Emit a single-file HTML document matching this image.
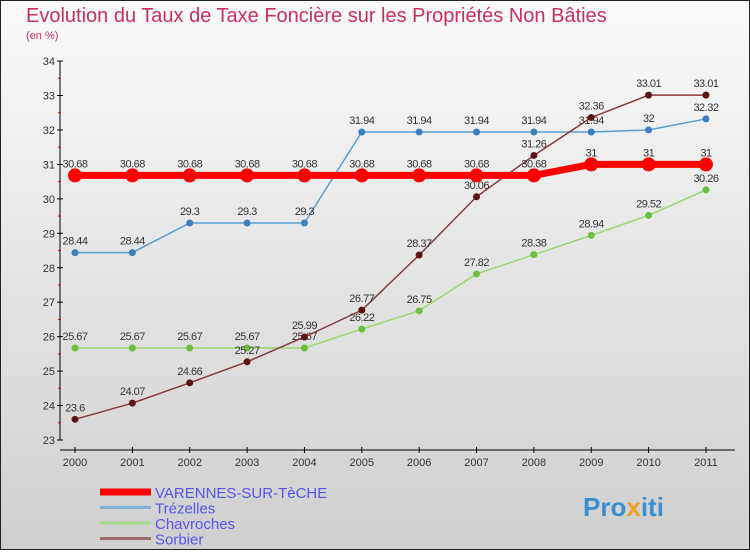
<!DOCTYPE html>
<html><head><meta charset="utf-8"><style>
body{margin:0;width:750px;height:550px;overflow:hidden;font-family:"Liberation Sans",sans-serif}
</style></head><body>
<svg width="750" height="550" xmlns="http://www.w3.org/2000/svg">
<defs><linearGradient id="bg" x1="0" y1="0" x2="0" y2="1"><stop offset="0" stop-color="#fafafa"/><stop offset="1" stop-color="#cfcfcf"/></linearGradient></defs>
<rect x="0.5" y="0.5" width="749" height="549" fill="url(#bg)" stroke="#222"/>
<text x="26" y="22" font-size="20" fill="#c8305f">Evolution du Taux de Taxe Foncière sur les Propriétés Non Bâties</text>
<text x="26" y="39" font-size="11" fill="#c8305f">(en %)</text>
<g id="axes"></g><g id="series"></g><g id="legend"></g>
<text x="583" y="516" font-size="26" font-weight="bold" fill="#3a8fd0">Pro<tspan fill="#f0a020">x</tspan>iti</text>
</svg>
<script>
const years=[2000,2001,2002,2003,2004,2005,2006,2007,2008,2009,2010,2011];
const yTicks=[23,24,25,26,27,28,29,30,31,32,33,34];
const varennes=[30.68,30.68,30.68,30.68,30.68,30.68,30.68,30.68,30.68,31,31,31];
const trezelles=[28.44,28.44,29.3,29.3,29.3,31.94,31.94,31.94,31.94,31.94,32,32.32];
const chavroches=[25.67,25.67,25.67,25.67,25.67,26.22,26.75,27.82,28.38,28.94,29.52,30.26];
const sorbier=[23.6,24.07,24.66,25.27,25.99,26.77,28.37,30.06,31.26,32.36,33.01,33.01];
const names=["VARENNES-SUR-TèCHE","Trézelles","Chavroches","Sorbier"];
const NS="http://www.w3.org/2000/svg";
const X=i=>75+i*57.36, Y=v=>440-(v-23)*34.45;
function mk(t,a,p){const e=document.createElementNS(NS,t);for(const k in a)e.setAttribute(k,a[k]);p.appendChild(e);return e;}
const ax=document.getElementById('axes');
const ya=mk('line',{x1:60,y1:Y(34),x2:60,y2:Y(23),stroke:'#000'},ax);


yTicks.forEach(v=>{
  mk('line',{x1:57,x2:63,y1:Y(v),y2:Y(v),stroke:'#000'},ax);
  if(v<34)mk('line',{x1:58,x2:61,y1:Y(v+0.5),y2:Y(v+0.5),stroke:'#e00'},ax);
  const t=mk('text',{x:55,y:Y(v)+4,'font-size':11,fill:'#333','text-anchor':'end'},ax);t.textContent=v;
  
  
});
const xa=mk('line',{x1:60,y1:450,x2:735,y2:450,stroke:'#000'},ax);


years.forEach((y,i)=>{
  mk('line',{x1:X(i),x2:X(i),y1:447,y2:453,stroke:'#000'},ax);
  const t=mk('text',{x:X(i),y:466,'font-size':11,fill:'#333','text-anchor':'middle'},ax);t.textContent=y;
  
  
});
const sg=document.getElementById('series');
const specs=[[trezelles,'#5a9fd0','#3a80c0',1.5,3.5],[chavroches,'#9ad870','#6cc040',1.5,3.5],[sorbier,'#8a3a3a','#5a1515',1.5,3.5],[varennes,'#f00','#f00',7,7]];
const order=[1,2,3,0];
specs.forEach((s,k)=>{
  const [d,lc,pc,w,r]=s;
  const g=mk('g',{},sg);
  
  
  mk('polyline',{points:d.map((v,i)=>X(i)+','+Y(v)).join(' '),fill:'none',stroke:lc,'stroke-width':w},g);
  d.forEach((v,i)=>{
    const c=mk('circle',{cx:X(i),cy:Y(v),r:r,fill:pc},g);
    
    
    const t=mk('text',{x:X(i),y:Y(v)-8,'font-size':11,fill:'#333','text-anchor':'middle','letter-spacing':'-0.5'},g);
    t.textContent=String(v);
    
    
  });
});
const lg=document.getElementById('legend');
const lcol=['#f00','#80b0d0','#a8d890','#9a6a6a'],lw=[7,3,3,3];
names.forEach((n,i)=>{
  const y=492+i*15.5;
  const l=mk('line',{x1:100,x2:151,y1:y,y2:y,stroke:lcol[i],'stroke-width':lw[i]},lg);
  
  
  const t=mk('text',{x:155,y:y+6,'font-size':15,fill:'#5555ee'},lg);t.textContent=n;
  
  
});
</script>
</body></html>
